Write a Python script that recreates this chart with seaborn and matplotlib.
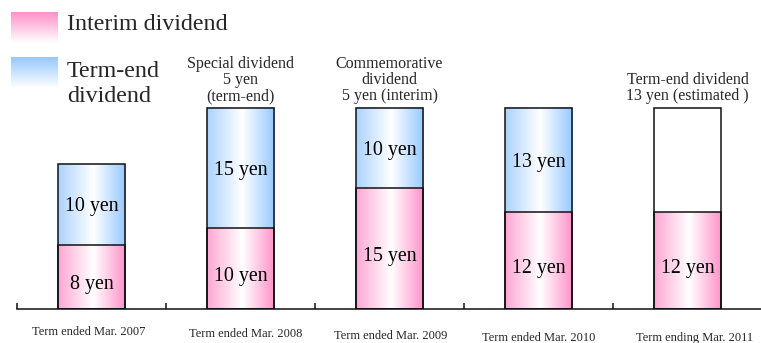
import numpy as np
import pandas as pd
import matplotlib
matplotlib.use("Agg")
import matplotlib.pyplot as plt
from matplotlib.ticker import FixedLocator
import seaborn as sns

# ---- data -------------------------------------------------------------
periods = ["Term ended Mar. 2007", "Term ended Mar. 2008", "Term ended Mar. 2009",
           "Term ended Mar. 2010", "Term ending Mar. 2011"]
interim = [8, 10, 15, 12, 12]
term_end = [10, 15, 10, 13, 13]
term_end_estimated = [False, False, False, False, True]
notes = ["",
         "Special dividend\n5 yen\n(term-end)",
         "Commemorative\ndividend\n5 yen (interim)",
         "",
         "Term-end dividend\n13 yen (estimated )"]
unit = "yen"
legend_labels = ["Interim dividend", "Term-end\ndividend"]

# ---- style ------------------------------------------------------------
sns.set_theme(style="white")
plt.rcParams["font.family"] = ["Liberation Serif", "DejaVu Serif"]

PINK = np.array([255, 145, 200]) / 255
BLUE = np.array([150, 200, 255]) / 255

DPI = 100
W, H = 761, 343
PT = 72 / DPI          # points per pixel

fig = plt.figure(figsize=(W / DPI, H / DPI), dpi=DPI)
fig.patch.set_facecolor("white")
ax = fig.add_axes([17 / W, 34 / H, 745 / W, 309 / H])

df = pd.DataFrame({"period": periods, "interim": interim, "term_end": term_end})
df["total"] = df["interim"] + df["term_end"]

bar_w = 0.456
common = dict(x="period", order=periods, color="white", width=bar_w,
              edgecolor="#111111", linewidth=1.1, saturation=1,
              errorbar=None, ax=ax)
sns.barplot(data=df, y="total", **common)
sns.barplot(data=df, y="interim", **common)

n = len(periods)
total_bars = ax.patches[:n]
interim_bars = ax.patches[n:2 * n]


def h_gradient(rgb, steps=256):
    t = np.linspace(0, 1, steps)
    a = np.interp(t, [0.0, 0.52, 1.0], [0.8, 0.0, 1.0])
    img = 1 - a[:, None] * (1 - rgb)[None, :]
    return img[None, :, :]


def v_gradient(rgb, steps=256):
    t = np.linspace(0, 1, steps)
    a = np.interp(t, [0.0, 1.0], [1.0, 0.0])
    img = 1 - a[:, None] * (1 - rgb)[None, :]
    return img[:, None, :]


# gradient fills inside each bar segment
for i in range(n):
    tb, ib = total_bars[i], interim_bars[i]
    for p in (tb, ib):
        p.set_facecolor("none")
        p.set_zorder(3)
    x0, x1 = ib.get_x(), ib.get_x() + ib.get_width()
    ax.imshow(h_gradient(PINK), extent=[x0, x1, 0, ib.get_height()],
              aspect="auto", interpolation="bilinear", zorder=1)
    if not term_end_estimated[i]:
        ax.imshow(h_gradient(BLUE), extent=[x0, x1, ib.get_height(), tb.get_height()],
                  aspect="auto", interpolation="bilinear", zorder=1)

# value labels inside the segments
val_fs = 20 * PT
for i in range(n):
    ax.annotate(f"{interim[i]} {unit}", xy=(i, interim[i] / 2),
                xytext=(0, -12.6 * PT), textcoords="offset points",
                ha="center", va="baseline", fontsize=val_fs, color="black", zorder=4)
    if not term_end_estimated[i]:
        ax.annotate(f"{term_end[i]} {unit}", xy=(i, interim[i] + term_end[i] / 2),
                    xytext=(0, -6.8 * PT), textcoords="offset points",
                    ha="center", va="baseline", fontsize=val_fs, color="black", zorder=4)

# notes above the bars
for i in range(n):
    if notes[i]:
        ax.annotate(notes[i], xy=(i, interim[i] + term_end[i]),
                    xytext=(0, 3 * PT), textcoords="offset points",
                    ha="center", va="bottom", fontsize=16 * PT,
                    linespacing=1.0, multialignment="center")

# period labels under the axis
label_dx = [-3, 5, 1.5, 0.5, 7.5]
label_dy = [23, 25, 27, 29, 29]
for i in range(n):
    ax.annotate(periods[i], xy=(i, 0), xycoords="data",
                xytext=(label_dx[i] * PT, -label_dy[i] * PT), textcoords="offset points",
                ha="center", va="center", fontsize=12.5 * PT, annotation_clip=False)

# axes cosmetics
ax.set_xlim(-0.5, n - 0.5)
ax.set_ylim(0, 309 / 8.06)
for s in ("left", "top", "right"):
    ax.spines[s].set_visible(False)
ax.spines["bottom"].set_color("#111111")
ax.spines["bottom"].set_linewidth(1.1)
ax.set_xlabel("")
ax.set_ylabel("")
ax.set_yticks([])
ax.set_xticks(range(n))
ax.set_xticklabels([])
ax.xaxis.set_minor_locator(FixedLocator(np.arange(-0.5, n, 1.0)))
ax.tick_params(axis="x", which="major", length=0)
ax.tick_params(axis="x", which="minor", bottom=True, direction="in",
               length=4, width=1.1, color="#111111")
ax.patch.set_alpha(0)

# legend drawn in figure pixel space
lax = fig.add_axes([0, 0, 1, 1], zorder=5)
lax.set_xlim(0, W)
lax.set_ylim(H, 0)
lax.axis("off")
lax.patch.set_alpha(0)
lax.imshow(v_gradient(PINK), extent=[11, 58, 43, 12], aspect="auto",
           interpolation="bilinear")
lax.imshow(v_gradient(BLUE), extent=[11, 58, 88, 57], aspect="auto",
           interpolation="bilinear")
lax.set_xlim(0, W)
lax.set_ylim(H, 0)
lax.text(67, 25, legend_labels[0], va="center", ha="left", fontsize=24 * PT)
lax.text(67, 84, legend_labels[1], va="center", ha="left", fontsize=24 * PT,
         linespacing=1.3)

fig.savefig("out.png", dpi=DPI, facecolor="white")
